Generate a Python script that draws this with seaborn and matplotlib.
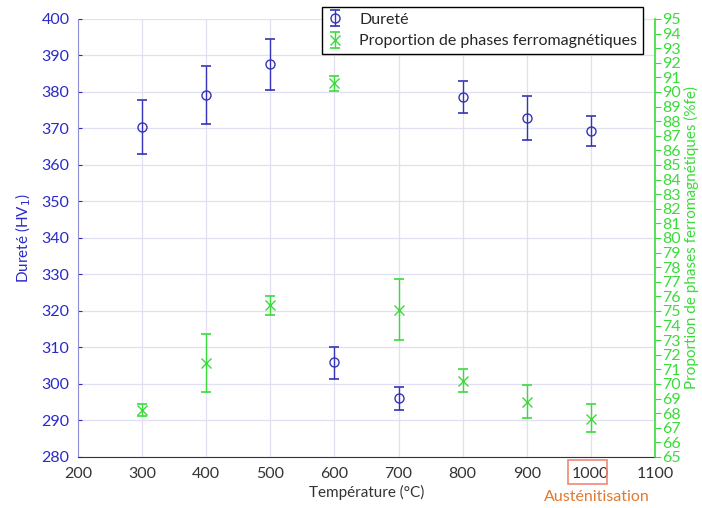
import numpy as np
import matplotlib
matplotlib.use("Agg")
import matplotlib.pyplot as plt
from matplotlib.patches import Rectangle
import seaborn as sns

# ── Data ─────────────────────────────────────────────────────────────────────
temperature = [300, 400, 500, 600, 700, 800, 900, 1000]

durete = [370.5, 379.3, 387.7, 305.9, 296.3, 378.7, 372.8, 369.3]
durete_low = [363.0, 371.2, 380.6, 301.4, 293.0, 374.3, 366.8, 365.3]
durete_high = [377.8, 387.2, 394.6, 310.2, 299.3, 383.0, 379.0, 373.3]

ferro = [68.2, 71.45, 75.4, 90.6, 75.1, 70.2, 68.8, 67.6]
ferro_low = [67.8, 69.45, 74.7, 90.1, 73.0, 69.45, 67.7, 66.7]
ferro_high = [68.6, 73.4, 76.0, 91.1, 77.2, 71.05, 69.9, 68.6]

BLUE = "#3434b8"
BLUE_TXT = "#2a2ac8"
GREEN = "#3adb3a"
ORANGE = "#e07a30"

sns.set_style("whitegrid")
plt.rcParams["font.family"] = ["Lato", "DejaVu Sans"]

fig = plt.figure(figsize=(7.02, 5.08), dpi=100)
ax = fig.add_axes([0.111, 0.1004, 0.822, 0.8622])
ax2 = ax.twinx()

d = np.array(durete)
f = np.array(ferro)
d_err = [d - np.array(durete_low), np.array(durete_high) - d]
f_err = [f - np.array(ferro_low), np.array(ferro_high) - f]

h1 = ax.errorbar(temperature, durete, yerr=d_err, fmt="o", color=BLUE,
                 mfc="none", mec=BLUE, ms=6.5, elinewidth=1.0, capsize=3.5,
                 capthick=1.2, label="Dureté")
h2 = ax2.errorbar(temperature, ferro, yerr=f_err, fmt="x", color=GREEN,
                  ms=6.5, elinewidth=1.0, capsize=3.5, capthick=1.2,
                  label="Proportion de phases ferromagnétiques")

# ── Axes styling ──────────────────────────────────────────────────────────────
ax.set_xlim(200, 1100)
ax.set_ylim(280, 400)
ax.set_xticks(range(200, 1101, 100))
ax.set_yticks(range(280, 401, 10))
ax2.set_ylim(65, 95)
ax2.set_yticks(range(65, 96, 1))

ax.grid(True, color="#e0e0f2", linewidth=0.9)
ax2.grid(False)
ax.set_facecolor("white")

ax.spines["top"].set_visible(False)
ax2.spines["top"].set_visible(False)
ax.spines["left"].set_color("#8f8fd8")
ax.spines["bottom"].set_color("#333333")
ax.spines["right"].set_visible(False)
ax2.spines["left"].set_visible(False)
ax2.spines["bottom"].set_visible(False)
ax2.spines["right"].set_color(GREEN)
ax2.spines["right"].set_linewidth(1.2)

ax.tick_params(axis="y", colors=BLUE_TXT, labelsize=11.5, length=3,
               direction="in", pad=6)
ax.tick_params(axis="x", colors="#333333", labelsize=11.5, length=0, pad=7)
ax2.tick_params(axis="y", colors=GREEN, labelsize=11.5, length=4,
                direction="out", pad=1)

ax.set_xlabel("Température (°C)", fontsize=11, color="#333333", labelpad=3)
ax.set_ylabel("Dureté (HV$_1$)", fontsize=11, color=BLUE_TXT, labelpad=6)
ax2.set_ylabel("Proportion de phases ferromagnétiques (%fe)", fontsize=11,
               color=GREEN, labelpad=2)

leg = ax2.legend([h1, h2], [h1.get_label(), h2.get_label()],
                 loc="upper right", bbox_to_anchor=(0.916, 0.986),
                 bbox_transform=fig.transFigure, fontsize=11.5,
                 frameon=True, fancybox=False, framealpha=1,
                 borderaxespad=0, handlelength=1.0, handletextpad=1.0,
                 borderpad=0.35, labelspacing=0.45)
leg.get_frame().set_edgecolor("black")
leg.get_frame().set_linewidth(1.0)

# Austenitisation marker around the 1000 tick label
fig.patches.append(Rectangle((568 / 702, 1 - 484 / 508), 39 / 702, 24 / 508,
                             transform=fig.transFigure, fill=False,
                             edgecolor="#f08878", linewidth=1.2))
fig.text(597 / 702, 1 - 497 / 508, "Austénitisation", color=ORANGE,
         fontsize=11.5, ha="center", va="center")

fig.savefig("out.png", dpi=100)
